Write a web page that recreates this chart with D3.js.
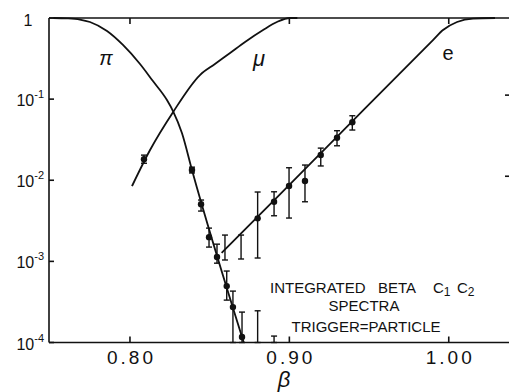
<!DOCTYPE html>
<html>
<head>
<meta charset="UTF-8">
<title>Integrated beta spectra</title>
<script src="https://d3js.org/d3.v7.min.js"></script>
<style>
  body { margin: 0; background: #fff; }
  svg { display: block; }
  text { font-family: "Liberation Sans", Arial, sans-serif; fill: #111; }
</style>
</head>
<body>
<div id="chart"></div>
<script>
// curves: [beta, fraction]
var piCurve = [[0.752, 1.0], [0.7605, 0.99], [0.7686, 0.958], [0.7749, 0.893], [0.7856, 0.691],
  [0.7956, 0.465], [0.8063, 0.271], [0.8144, 0.167], [0.8232, 0.0975], [0.827, 0.0713],
  [0.8326, 0.0382], [0.8389, 0.0134], [0.8714, 0.0001]];
var muCurve = [[0.8013, 0.00849], [0.8126, 0.0236], [0.827, 0.069], [0.8439, 0.198],
  [0.8533, 0.271], [0.8628, 0.37], [0.8722, 0.506], [0.8835, 0.711], [0.8922, 0.893],
  [0.9004, 1.0], [0.905, 1.0]];
var eCurve = [[0.8575, 0.00127], [0.8941, 0.00671], [0.9255, 0.0281], [0.9901, 0.535],
  [0.9964, 0.711], [1.0052, 0.893], [1.0152, 0.985], [1.029, 1.0]];

// measured points: [beta, value, low, high]
var piPoints = [[0.8389, 0.0134, 0.0123, 0.0145], [0.8446, 0.00505, 0.00417, 0.0057],
  [0.8496, 0.00199, 0.0015, 0.00257], [0.8546, 0.00113, 0.00095, 0.00163],
  [0.8607, 0.000496, 0.000333, 0.00076], [0.8646, 0.000273, 0.0001, 0.00043],
  [0.8703, 0.000117, 0.0001, 0.000237]];
var muPoints = [[0.8088, 0.0182, 0.0162, 0.0204]];
var ePoints = [[0.8801, 0.00339, 0.0011, 0.00716], [0.8904, 0.00543, 0.00365, 0.00721],
  [0.8998, 0.00849, 0.00342, 0.01426], [0.9098, 0.00977, 0.00543, 0.0154],
  [0.9197, 0.0205, 0.015, 0.0249], [0.9299, 0.0334, 0.0266, 0.0408],
  [0.9395, 0.0518, 0.0416, 0.0624]];
// bars drawn without a dot: [beta, low, high]
var eBars = [[0.8596, 0.00104, 0.00211], [0.8697, 0.00107, 0.00211]];
// upper limits down to the axis: [beta, high]
var upperLimits = [[0.8801, 0.000246], [0.8904, 0.00012]];

var xTicks = [0.80, 0.90, 1.00];
var xTickLabels = ["0.80", "0.90", "1.00"];
var yTicks = [1, 1e-1, 1e-2, 1e-3, 1e-4];
var yExponents = ["", "-1", "-2", "-3", "-4"];

var width = 509, height = 392;
var svg = d3.select("#chart").append("svg")
    .attr("width", width)
    .attr("height", height);

var x = d3.scaleLinear().domain([0.7492, 1.0378]).range([49, 509]);
var y = d3.scaleLog().domain([1e-4, 1]).range([342.5, 18]);

// frame
var axisStyle = function(sel) { sel.attr("stroke", "#111").attr("stroke-width", 1.6).attr("fill", "none"); };
svg.append("line").attr("x1", x.range()[0]).attr("x2", x.range()[1])
    .attr("y1", y(1e-4)).attr("y2", y(1e-4)).call(axisStyle);
svg.append("line").attr("x1", x.range()[0]).attr("x2", x.range()[1])
    .attr("y1", y(1)).attr("y2", y(1)).call(axisStyle);
svg.append("line").attr("x1", x.range()[0]).attr("x2", x.range()[0])
    .attr("y1", y(1)).attr("y2", y(1e-4)).call(axisStyle);

// ticks
xTicks.forEach(function(t, i) {
  svg.append("line").attr("x1", x(t)).attr("x2", x(t))
      .attr("y1", y(1e-4)).attr("y2", y(1e-4) - 6).call(axisStyle);
  svg.append("line").attr("x1", x(t)).attr("x2", x(t))
      .attr("y1", y(1)).attr("y2", y(1) + 6).call(axisStyle);
  svg.append("text").attr("x", x(t) + 1.5).attr("y", 364)
      .attr("text-anchor", "middle").attr("font-size", 19)
      .attr("letter-spacing", 3)
      .text(xTickLabels[i]);
});
yTicks.forEach(function(t, i) {
  svg.append("line").attr("x1", 49).attr("x2", 54)
      .attr("y1", y(t)).attr("y2", y(t)).call(axisStyle);
  if (i > 0 && i < 3) {
    svg.append("line").attr("x1", 505).attr("x2", 509)
        .attr("y1", y(t) - 4).attr("y2", y(t) - 4).call(axisStyle);
  }
  if (yExponents[i] === "") {
    svg.append("text").attr("x", 28).attr("y", y(t) + 8)
        .attr("text-anchor", "middle").attr("font-size", 16).text("1");
  } else {
    var lab = svg.append("text").attr("x", 44).attr("y", y(t) + 7)
        .attr("text-anchor", "end").attr("font-size", 16);
    lab.append("tspan").text("10");
    lab.append("tspan").attr("font-size", 11).attr("dy", -8).text(yExponents[i]);
  }
});

// curves
var line = d3.line()
    .x(function(d) { return x(d[0]); })
    .y(function(d) { return y(d[1]); })
    .curve(d3.curveMonotoneX);
[piCurve, muCurve, eCurve].forEach(function(c) {
  svg.append("path").attr("d", line(c))
      .attr("fill", "none").attr("stroke", "#111").attr("stroke-width", 1.8);
});

// error bars
function bar(bx, lo, hi, cap) {
  var g = svg.append("g").attr("stroke", "#111").attr("stroke-width", 1.4);
  g.append("line").attr("x1", x(bx)).attr("x2", x(bx)).attr("y1", y(lo)).attr("y2", y(hi));
  g.append("line").attr("x1", x(bx) - cap).attr("x2", x(bx) + cap).attr("y1", y(hi)).attr("y2", y(hi));
  g.append("line").attr("x1", x(bx) - cap).attr("x2", x(bx) + cap).attr("y1", y(lo)).attr("y2", y(lo));
}
piPoints.concat(muPoints, ePoints).forEach(function(d) { bar(d[0], d[2], d[3], 3); });
eBars.forEach(function(d) { bar(d[0], d[1], d[2], 3); });
upperLimits.forEach(function(d) { bar(d[0], 1e-4, d[1], 3); });

svg.append("g").selectAll("circle")
    .data(piPoints.concat(muPoints, ePoints))
    .enter().append("circle")
    .attr("cx", function(d) { return x(d[0]); })
    .attr("cy", function(d) { return y(d[1]); })
    .attr("r", 3.2)
    .attr("fill", "#111");

// curve labels
svg.append("text").attr("x", 106).attr("y", 65).attr("text-anchor", "middle")
    .attr("font-family", "Liberation Serif").attr("font-style", "italic")
    .attr("font-size", 20).text("π");
svg.append("text").attr("x", 259).attr("y", 66).attr("text-anchor", "middle")
    .attr("font-family", "Liberation Serif").attr("font-style", "italic")
    .attr("font-size", 22).text("μ");
svg.append("text").attr("x", 448).attr("y", 60).attr("text-anchor", "middle")
    .attr("font-size", 20).text("e");

// annotation
var note = svg.append("g").attr("font-size", 15);
note.append("text").attr("x", 270).attr("y", 293).text("INTEGRATED");
note.append("text").attr("x", 378).attr("y", 293).text("BETA");
var c1 = note.append("text").attr("x", 433).attr("y", 293);
c1.append("tspan").text("C");
c1.append("tspan").attr("font-size", 12).attr("dy", 3).text("1");
var c2 = note.append("text").attr("x", 457).attr("y", 293);
c2.append("tspan").text("C");
c2.append("tspan").attr("font-size", 12).attr("dy", 3).text("2");
note.append("text").attr("x", 364).attr("y", 311).attr("text-anchor", "middle").text("SPECTRA");
note.append("text").attr("x", 366).attr("y", 332).attr("text-anchor", "middle").text("TRIGGER=PARTICLE");

// axis title
svg.append("text").attr("x", 284).attr("y", 387).attr("text-anchor", "middle")
    .attr("font-family", "Liberation Serif").attr("font-style", "italic")
    .attr("font-size", 22).text("β");
</script>
</body>
</html>
